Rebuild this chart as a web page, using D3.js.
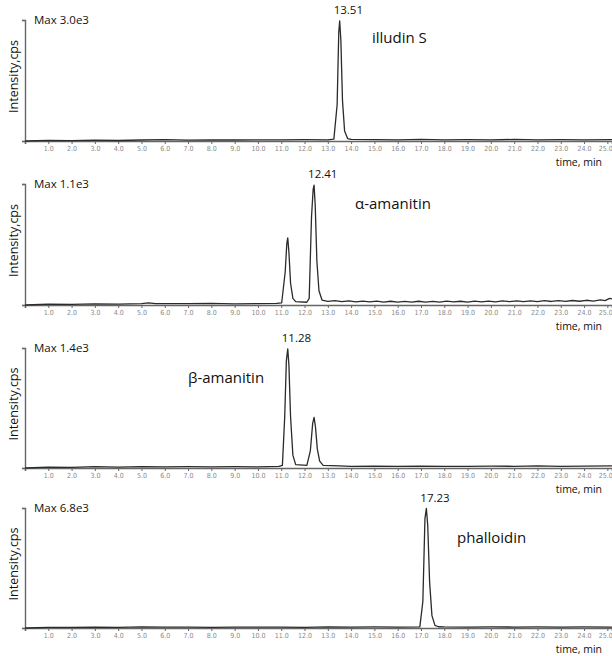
<!DOCTYPE html>
<html>
<head>
  <meta charset="utf-8">
  <title>Chromatograms</title>
  <script src="https://d3js.org/d3.v7.min.js"></script>
  <style>
    body { margin: 0; background: #fff; }
    .axis path, .axis line { stroke: #666; }
    .xt text { fill: #8a8a8a; font: 7px "DejaVu Sans Condensed", sans-serif; }
    .lbl { font-family: "Open Sans", "Noto Sans", sans-serif; fill: #111; }
  </style>
</head>
<body>
<div id="chart"></div>
<script>
"use strict"

// compound names, max intensities, peak labels
var compounds = ["illudin S", "α-amanitin", "β-amanitin", "phalloidin"];
var maxLabels = ["Max 3.0e3", "Max 1.1e3", "Max 1.4e3", "Max 6.8e3"];
var maxValues = [3000, 1100, 1400, 6800];
var peakTimes = [13.51, 12.41, 11.28, 17.23];
var xTicks = [1,2,3,4,5,6,7,8,9,10,11,12,13,14,15,16,17,18,19,20,21,22,23,24,25];

// traces: [time (min), intensity (cps)]
var trace1 = [[0,0],[1,15],[2,10],[3,20],[4,12],[5,25],[6,35],[7,20],[8,30],[9,25],[10,30],[11,28],[12,35],
  [13.0,30],[13.26,45],[13.4,900],[13.47,2700],[13.51,2980],[13.56,2500],[13.63,1000],[13.72,250],[13.85,60],[14,40],
  [15,35],[16,30],[17,40],[18,30],[19,35],[20,30],[21,38],[22,30],[23,35],[24,30],[25.2,35]];
var trace2 = [[0,0],[1,8],[2,5],[3,10],[4,8],[5,12],[5.3,20],[5.6,12],[7,12],[8,15],[9,10],[10,12],[10.8,15],
  [11.02,20],[11.17,300],[11.24,560],[11.28,610],[11.33,480],[11.4,200],[11.5,60],[11.62,30],
  [12.1,25],[12.2,60],[12.3,800],[12.37,1050],[12.41,1090],[12.46,900],[12.53,400],[12.62,130],[12.75,45],
  [13,32],[13.3,40],[13.6,30],[13.9,38],[14.2,28],[14.5,36],[14.8,28],[15.1,35],[15.4,27],[15.7,34],[16,26],
  [16.3,33],[16.6,27],[16.9,34],[17.2,26],[17.5,33],[17.8,27],[18.1,35],[18.4,28],[18.7,34],[19,27],[19.3,35],
  [19.6,29],[19.9,36],[20.2,29],[20.5,37],[20.8,30],[21.1,37],[21.4,30],[21.7,38],[22,31],[22.3,39],[22.6,32],
  [22.9,40],[23.2,33],[23.5,41],[23.8,34],[24.1,43],[24.4,36],[24.7,46],[24.9,40],[25.1,60],[25.2,55]];
var trace3 = [[0,0],[1,10],[2,8],[3,15],[4,10],[5,15],[6,12],[7,15],[8,12],[9,15],[10,12],[10.9,18],
  [11.05,30],[11.15,600],[11.22,1250],[11.28,1390],[11.33,1200],[11.4,600],[11.5,150],[11.62,40],
  [12.1,30],[12.25,200],[12.35,520],[12.41,590],[12.47,480],[12.55,220],[12.65,80],[12.8,30],
  [13.5,25],[14,20],[15,22],[16,18],[17,22],[18,18],[19,20],[20,22],[21,20],[22,24],[23,20],[24,22],[25.2,25]];
var trace4 = [[0,0],[1,40],[2,30],[3,50],[4,40],[5,60],[6,45],[7,55],[8,40],[9,50],[10,45],[11,55],[12,40],
  [13,60],[14,50],[15,60],[16,50],[16.95,60],[17.08,1500],[17.17,6200],[17.23,6780],[17.29,5800],[17.37,2600],
  [17.47,700],[17.6,150],[17.75,70],[18,60],[19,55],[20,65],[21,55],[22,60],[23,55],[24,60],[25.2,55]];
var traces = [trace1, trace2, trace3, trace4];

var tops = [20, 184, 348, 508];
var bottoms = [141, 305, 468, 628];

var svg = d3.select("#chart").append("svg")
  .attr("width", 612).attr("height", 656);

var x = d3.scaleLinear().domain([0, 25.2]).range([25, 612]);

var compoundPos = [[372, 43], [355, 209], [188, 383], [457, 543]];

traces.forEach(function(tr, i) {
  var y = d3.scaleLinear().domain([0, maxValues[i]]).range([bottoms[i], tops[i]]);
  var g = svg.append("g");

  // x axis
  g.append("g")
    .attr("class", "axis xt")
    .attr("transform", "translate(0," + bottoms[i] + ")")
    .call(d3.axisBottom(x).tickValues(xTicks).tickSize(3).tickPadding(2)
      .tickFormat(d3.format(".1f")))
    .call(function(a) {
      a.select(".domain").attr("stroke", "#555").attr("stroke-width", 1.6);
      a.selectAll(".tick line").attr("stroke", "#aaa");
      a.selectAll(".tick text").filter(function(d) { return d === 25; })
        .attr("text-anchor", "end").attr("dx", 5);
    });

  // y axis
  g.append("g")
    .attr("class", "axis")
    .attr("transform", "translate(25,0)")
    .call(d3.axisLeft(y).tickValues([0, maxValues[i]]).tickSize(3).tickFormat(""))
    .call(function(a) {
      a.select(".domain").attr("stroke", "#666").attr("stroke-width", 1.4);
      a.selectAll(".tick line").attr("stroke", "#555").attr("stroke-width", 1.2);
    });

  // trace
  g.append("path")
    .datum(tr)
    .attr("fill", "none")
    .attr("stroke", "#2b2b2b")
    .attr("stroke-width", 1.3)
    .attr("stroke-linejoin", "round")
    .attr("d", d3.line().x(function(d) { return x(d[0]); }).y(function(d) { return y(d[1]); }));

  g.append("text").attr("class", "lbl")
    .attr("x", 34).attr("y", tops[i] + 4)
    .attr("font-size", 11.5)
    .text(maxLabels[i]);

  g.append("text").attr("class", "lbl")
    .attr("transform", "translate(18," + ((tops[i] + bottoms[i]) / 2 - 4) + ") rotate(-90)")
    .attr("text-anchor", "middle")
    .attr("font-size", 12.5)
    .text("Intensity,cps");

  g.append("text").attr("class", "lbl")
    .attr("x", x(peakTimes[i]) - 6).attr("y", tops[i] - 6)
    .attr("font-size", 11.5)
    .text(peakTimes[i].toFixed(2));

  g.append("text").attr("class", "lbl")
    .attr("x", compoundPos[i][0]).attr("y", compoundPos[i][1])
    .attr("font-size", 15)
    .text(compounds[i]);

  g.append("text").attr("class", "lbl")
    .attr("x", 602).attr("y", bottoms[i] + 24.5)
    .attr("text-anchor", "end")
    .attr("font-size", 10.5)
    .text("time, min");
});
</script>
</body>
</html>
